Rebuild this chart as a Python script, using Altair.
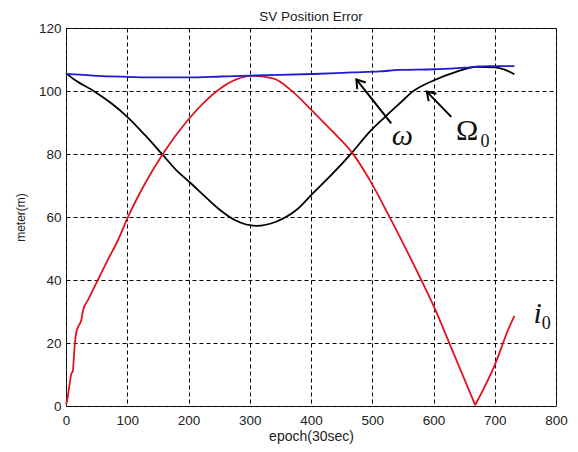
import altair as alt
import pandas as pd

# ---- data ----
title_text = "SV Position Error"

# i0 (red)
i0_x = [0, 2, 6, 9, 11, 14, 16, 20, 25, 28, 36, 52, 68, 85, 100, 123, 158, 199, 226, 252,
        277, 301, 338, 370, 403, 436, 468, 496, 528, 545, 580, 602, 626, 668, 700, 724, 732]
i0_y = [0.5, 1.9, 7.2, 10.4, 10.9, 18.8, 22.5, 25.2, 27.3, 30.5, 33.7, 40.0, 46.3, 52.7, 59.5,
        68.5, 80.0, 90.8, 96.5, 100.8, 103.6, 104.8, 104.0, 99.8, 93.5, 87.0, 80.2, 71.7, 60.1,
        53.7, 40.0, 31.0, 19.9, 0.3, 13.0, 25.2, 28.6]

# Omega0 (black)
om_x = [0, 14, 47, 74, 100, 128, 158, 180, 201, 232, 251, 278, 311, 343, 376, 403, 436,
        468, 496, 521, 545, 566, 602, 637, 670, 700, 716, 732]
om_y = [105.6, 103.6, 99.8, 96.1, 91.8, 86.2, 79.7, 74.9, 71.2, 65.6, 62.3, 58.8, 57.2,
        58.5, 62.2, 67.5, 73.9, 80.7, 87.1, 91.8, 96.1, 99.8, 103.5, 106.1, 107.7, 107.5, 106.8,
        105.3]

# omega (blue)
w_x = [0, 14, 52, 100, 145, 199, 253, 301, 350, 403, 468, 512, 545, 602, 650, 692, 732]
w_y = [105.4, 105.3, 104.8, 104.5, 104.3, 104.3, 104.6, 104.9, 105.1, 105.4, 105.9, 106.2,
       106.7, 106.9, 107.4, 107.9, 107.9]

x_ticks = [0, 100, 200, 300, 400, 500, 600, 700, 800]
y_ticks = [0, 20, 40, 60, 80, 100, 120]

# annotations (data coordinates)
arrow_tail_x = [531, 629]
arrow_tail_y = [89.7, 91.8]
arrow_head_x = [474, 589]
arrow_head_y = [103.7, 99.8]
arrow_angle = [321.5, 315.7]

italic_text = ["ω", "i"]
italic_x = [549, 770]
italic_y = [82.9, 26.2]

upright_text = ["Ω"]
upright_x = [655]
upright_y = [84.4]

sub_text = ["0", "0"]
sub_x = [684, 784]
sub_y = [82.3, 24.3]

# ---- chart ----
W, H = 490, 378
xs = alt.Scale(domain=[0, 800], nice=False, zero=False)
ys = alt.Scale(domain=[0, 120], nice=False, zero=False)
xaxis = alt.Axis(values=x_ticks, title="epoch(30sec)", labelPadding=7, titlePadding=3,
                 titleFontSize=14, labelFlush=False)
yaxis = alt.Axis(values=y_ticks, title="meter(m)", labelPadding=5, titlePadding=11,
                 titleFontSize=12, labelFlush=False)

X = alt.X("x:Q", scale=xs, axis=xaxis)
Y = alt.Y("y:Q", scale=ys, axis=yaxis)

# split the red series at its minimum so the V stays sharp
imin = i0_y.index(min(i0_y))
df_i0 = pd.concat([
    pd.DataFrame({"x": i0_x[:imin + 1], "y": i0_y[:imin + 1], "s": "a"}),
    pd.DataFrame({"x": i0_x[imin:], "y": i0_y[imin:], "s": "b"}),
])
df_om = pd.DataFrame({"x": om_x, "y": om_y})
df_w = pd.DataFrame({"x": w_x, "y": w_y})

l_om = alt.Chart(df_om).mark_line(color="#000000", strokeWidth=1.8,
                                  interpolate="monotone").encode(x=X, y=Y)
l_i0 = alt.Chart(df_i0).mark_line(color="#e3121c", strokeWidth=1.8,
                                  interpolate="monotone").encode(x=X, y=Y, detail="s:N")
l_w = alt.Chart(df_w).mark_line(color="#1c1cd2", strokeWidth=1.8,
                                interpolate="monotone").encode(x=X, y=Y)

df_ar = pd.DataFrame({"x": arrow_tail_x, "y": arrow_tail_y,
                      "x2": arrow_head_x, "y2": arrow_head_y, "a": arrow_angle})
shafts = alt.Chart(df_ar).mark_rule(color="#000", strokeWidth=2).encode(
    x=X, y=Y, x2="x2:Q", y2="y2:Q")
heads = alt.Chart(df_ar).mark_point(
    shape="M -0.55 0.85 L 0 0 L 0.55 0.85", filled=False, color="#000",
    strokeWidth=2, size=380, opacity=1
).encode(x=alt.X("x2:Q", scale=xs, axis=xaxis), y=alt.Y("y2:Q", scale=ys, axis=yaxis),
         angle=alt.Angle("a:Q", scale=None))

df_it = pd.DataFrame({"x": italic_x, "y": italic_y, "t": italic_text})
df_up = pd.DataFrame({"x": upright_x, "y": upright_y, "t": upright_text})
df_sub = pd.DataFrame({"x": sub_x, "y": sub_y, "t": sub_text})

t_it = alt.Chart(df_it).mark_text(font="Liberation Serif", fontStyle="italic", fontSize=30,
                                  align="center", baseline="alphabetic", color="#111").encode(
    x=X, y=Y, text="t:N")
t_up = alt.Chart(df_up).mark_text(font="Liberation Serif", fontSize=30,
                                  align="center", baseline="alphabetic", color="#111").encode(
    x=X, y=Y, text="t:N")
t_sub = alt.Chart(df_sub).mark_text(font="Liberation Serif", fontSize=18,
                                    align="center", baseline="alphabetic", color="#111").encode(
    x=X, y=Y, text="t:N")

t_title = alt.Chart(pd.DataFrame({"t": [title_text]})).mark_text(
    font="Liberation Sans", fontSize=13.5, align="center", baseline="alphabetic",
    color="#222").encode(x=alt.value(W / 2), y=alt.value(-7.5), text="t:N")

chart = alt.layer(l_om, l_i0, l_w, shafts, heads, t_it, t_up, t_sub, t_title).properties(
    width=W, height=H,
    autosize=alt.AutoSizeParams(type="none"),
    padding={"left": 58, "top": 20, "right": 12, "bottom": 46},
).configure_view(stroke="#222", strokeWidth=1).configure_axis(
    grid=True, gridColor="#000", gridDash=[4, 3], gridWidth=1, gridOpacity=1,
    domain=False, ticks=False,
    labelFont="Liberation Sans", labelFontSize=13.5, labelColor="#222",
    titleFont="Liberation Sans", titleFontWeight="normal", titleColor="#222"
)

chart.save("out.html", embed_options={"renderer": "svg", "actions": False})
